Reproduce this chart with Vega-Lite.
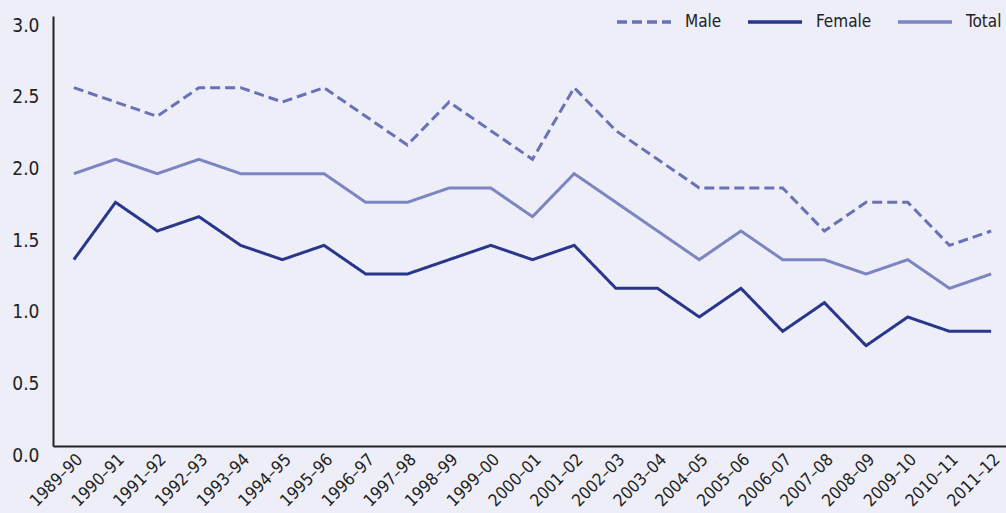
{
  "$schema": "https://vega.github.io/schema/vega-lite/v6.json",
  "width": 959,
  "height": 430,
  "autosize": {"type": "none"},
  "padding": {"left": 53, "top": 16, "right": 0, "bottom": 67},
  "background": "#edeef7",
  "config": {
    "view": {"stroke": null},
    "font": "DejaVu Sans Condensed, sans-serif"
  },
  "data": {
    "values": [
      {"year": "1989–90", "Male": 2.5, "Female": 1.3, "Total": 1.9},
      {"year": "1990–91", "Male": 2.4, "Female": 1.7, "Total": 2.0},
      {"year": "1991–92", "Male": 2.3, "Female": 1.5, "Total": 1.9},
      {"year": "1992–93", "Male": 2.5, "Female": 1.6, "Total": 2.0},
      {"year": "1993–94", "Male": 2.5, "Female": 1.4, "Total": 1.9},
      {"year": "1994–95", "Male": 2.4, "Female": 1.3, "Total": 1.9},
      {"year": "1995–96", "Male": 2.5, "Female": 1.4, "Total": 1.9},
      {"year": "1996–97", "Male": 2.3, "Female": 1.2, "Total": 1.7},
      {"year": "1997–98", "Male": 2.1, "Female": 1.2, "Total": 1.7},
      {"year": "1998–99", "Male": 2.4, "Female": 1.3, "Total": 1.8},
      {"year": "1999–00", "Male": 2.2, "Female": 1.4, "Total": 1.8},
      {"year": "2000–01", "Male": 2.0, "Female": 1.3, "Total": 1.6},
      {"year": "2001–02", "Male": 2.5, "Female": 1.4, "Total": 1.9},
      {"year": "2002–03", "Male": 2.2, "Female": 1.1, "Total": 1.7},
      {"year": "2003–04", "Male": 2.0, "Female": 1.1, "Total": 1.5},
      {"year": "2004–05", "Male": 1.8, "Female": 0.9, "Total": 1.3},
      {"year": "2005–06", "Male": 1.8, "Female": 1.1, "Total": 1.5},
      {"year": "2006–07", "Male": 1.8, "Female": 0.8, "Total": 1.3},
      {"year": "2007–08", "Male": 1.5, "Female": 1.0, "Total": 1.3},
      {"year": "2008–09", "Male": 1.7, "Female": 0.7, "Total": 1.2},
      {"year": "2009–10", "Male": 1.7, "Female": 0.9, "Total": 1.3},
      {"year": "2010–11", "Male": 1.4, "Female": 0.8, "Total": 1.1},
      {"year": "2011–12", "Male": 1.5, "Female": 0.8, "Total": 1.2}
    ]
  },
  "transform": [
    {"fold": ["Male", "Female", "Total"], "as": ["series", "value"]}
  ],
  "mark": {"type": "line", "strokeWidth": 3},
  "encoding": {
    "x": {
      "field": "year",
      "type": "ordinal",
      "scale": {"type": "point", "padding": 0.5},
      "sort": null,
      "axis": {
        "title": null,
        "labelAngle": -45,
        "labelFontSize": 17,
        "labelColor": "#222222",
        "ticks": false,
        "domainColor": "#222222",
        "domainWidth": 2,
        "labelPadding": 5,
        "grid": false
      }
    },
    "y": {
      "field": "value",
      "type": "quantitative",
      "scale": {"domain": [0, 3], "nice": false},
      "axis": {
        "title": null,
        "values": [0, 0.5, 1, 1.5, 2, 2.5, 3],
        "format": ".1f",
        "labelFontSize": 19,
        "labelColor": "#222222",
        "labelBaseline": "top",
        "labelPadding": 14,
        "ticks": false,
        "grid": false,
        "domainColor": "#222222",
        "domainWidth": 2
      }
    },
    "color": {
      "field": "series",
      "type": "nominal",
      "scale": {"domain": ["Male", "Female", "Total"], "range": ["#6a71b6", "#28368c", "#7d85c1"]},
      "legend": {
        "title": null,
        "orient": "none",
        "direction": "horizontal",
        "legendX": 562,
        "legendY": -23,
        "symbolType": "stroke",
        "symbolSize": 2916,
        "symbolStrokeWidth": 3.5,
        "labelFontSize": 17,
        "labelColor": "#222222",
        "labelOffset": 12,
        "columnPadding": 19
      }
    },
    "strokeDash": {
      "field": "series",
      "type": "nominal",
      "scale": {"domain": ["Male", "Female", "Total"], "range": [[10, 5], [1, 0], [1, 0]]},
      "legend": {
        "title": null,
        "orient": "none",
        "direction": "horizontal",
        "legendX": 562,
        "legendY": -23,
        "symbolType": "stroke",
        "symbolSize": 2916,
        "symbolStrokeWidth": 3.5,
        "labelFontSize": 17,
        "labelColor": "#222222",
        "labelOffset": 12,
        "columnPadding": 19
      }
    }
  }
}
